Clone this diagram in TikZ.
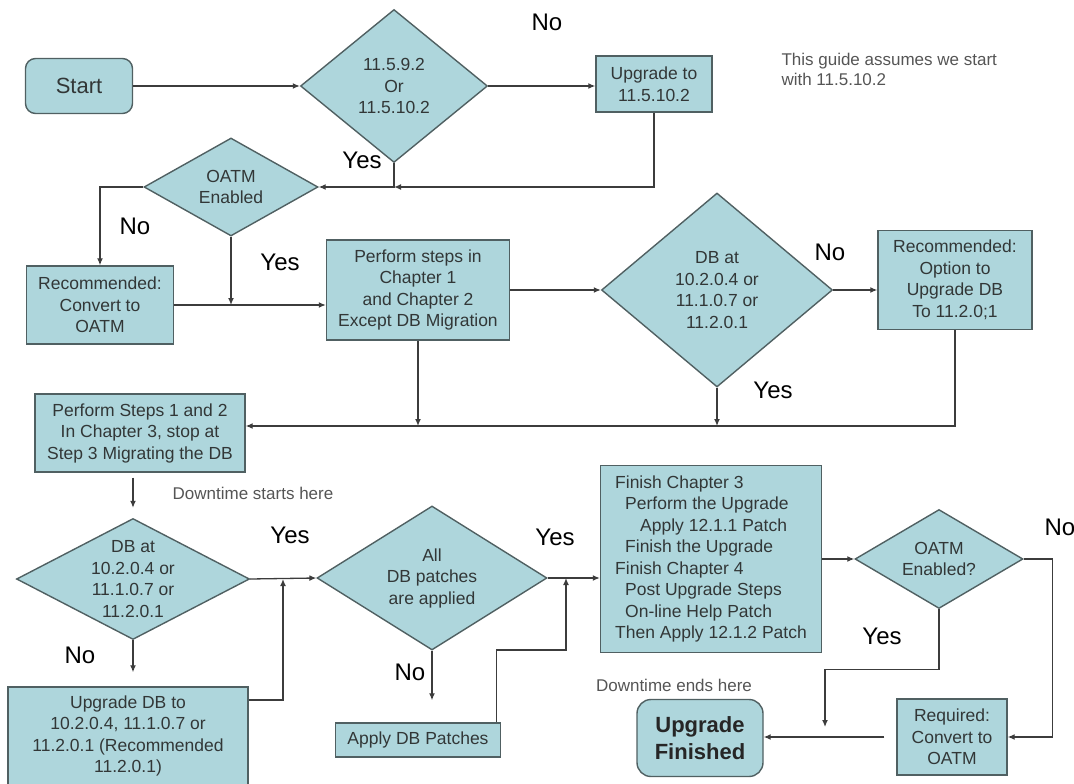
\documentclass[tikz,border=0pt]{standalone}
\usepackage{fontspec}
\setmainfont{Liberation Sans}
\usetikzlibrary{shapes.geometric,arrows.meta}
\definecolor{boxfill}{RGB}{174,214,220}
\definecolor{boxline}{RGB}{80,96,98}
\definecolor{boxtext}{RGB}{50,55,55}
\definecolor{linkline}{RGB}{60,60,60}
\definecolor{notetext}{RGB}{85,85,85}

\begin{document}
\begin{tikzpicture}[x=1pt, y=-1pt,
	box/.style={rectangle, draw=boxline, fill=boxfill, line width=1.4pt, align=center, text=boxtext, font=\fontsize{17.5}{21.5}\selectfont, inner sep=2pt},
	rbox/.style={box, rounded corners=10pt},
	dia/.style={diamond, draw=boxline, fill=boxfill, line width=1.4pt, inner sep=0pt},
	dtxt/.style={align=center, text=boxtext, font=\fontsize{17.5}{21.5}\selectfont},
	yn/.style={font=\fontsize{24}{28}\selectfont},
	note/.style={text=notetext, font=\fontsize{17}{20}\selectfont, align=left},
	link/.style={draw=linkline, line width=1.3pt, ->, >={Latex[length=7pt,width=6pt]}}]
		\useasboundingbox (0,0) rectangle (1074,784);

		% top row
		\node[rbox, minimum width=107pt, minimum height=55pt, font=\fontsize{22}{26}\selectfont] (start) at (79,86) {Start};
		\node[dia, minimum width=187pt, minimum height=153pt, label={[dtxt]center:{11.5.9.2\\Or\\11.5.10.2}}] (q1) at (394,86) {};
		\node[box, minimum width=116pt, minimum height=56pt] (up1) at (654,84) {Upgrade to\\11.5.10.2};
		\node[note, anchor=north west] (guide) at (778,50) {This guide assumes we start\\with 11.5.10.2};

		\node[dia, minimum width=174pt, minimum height=98pt, label={[dtxt]center:{OATM\\Enabled}}] (oatm1) at (231,187) {};
		\node[box, minimum width=147pt, minimum height=78pt] (conv1) at (100,305) {Recommended:\\Convert to\\OATM};
		\node[box, minimum width=183pt, minimum height=100pt] (ch12) at (418,290) {Perform steps in\\Chapter 1\\and Chapter 2\\Except DB Migration};
		\node[dia, minimum width=231pt, minimum height=194pt, label={[dtxt]center:{DB at\\10.2.0.4 or\\11.1.0.7 or\\11.2.0.1}}] (q2) at (717,290) {};
		\node[box, minimum width=154pt, minimum height=99pt] (opt) at (955,280) {Recommended:\\Option to\\Upgrade DB\\To 11.2.0;1};

		% downtime part
		\node[box, minimum width=210pt, minimum height=78pt] (ch3) at (140,433) {Perform Steps 1 and 2\\In Chapter 3, stop at\\Step 3 Migrating the DB};
		\node[note] (dstart) at (253,493) {Downtime starts here};
		\node[dia, minimum width=233pt, minimum height=121pt, label={[dtxt]center:{DB at\\10.2.0.4 or\\11.1.0.7 or\\11.2.0.1}}] (q3) at (133,579) {};
		\node[box, minimum width=240pt, minimum height=98pt] (updb) at (128,736) {Upgrade DB to\\10.2.0.4, 11.1.0.7 or\\11.2.0.1 (Recommended\\11.2.0.1)};
		\node[dia, minimum width=230pt, minimum height=144pt, label={[dtxt]center:{All\\DB patches\\are applied}}] (q4) at (432,578) {};
		\node[box, minimum width=165pt, minimum height=34pt] (apply) at (418,740) {Apply DB Patches};
		\node[box, minimum width=221pt, minimum height=187pt, align=left] (fin) at (711,559) {Finish Chapter 3\\\hspace*{10pt}Perform the Upgrade\\\hspace*{25pt}Apply 12.1.1 Patch\\\hspace*{10pt}Finish the Upgrade\\Finish Chapter 4\\\hspace*{10pt}Post Upgrade Steps\\\hspace*{10pt}On-line Help Patch\\Then Apply 12.1.2 Patch};
		\node[dia, minimum width=168pt, minimum height=99pt, label={[dtxt]center:{OATM\\Enabled?}}] (q5) at (939,559) {};
		\node[box, minimum width=110pt, minimum height=76pt] (req) at (952,737) {Required:\\Convert to\\OATM};
		\node[rbox, rounded corners=14pt, minimum width=126pt, minimum height=77pt, text=black!85, font=\bfseries\fontsize{22}{27}\selectfont] (done) at (700,738) {Upgrade\\Finished};
		\node[note] (dend) at (674,685) {Downtime ends here};

		% Yes / No
		\node[yn] (no1) at (547,22) {No};
		\node[yn] (yes1) at (362,160) {Yes};
		\node[yn] (no2) at (135,226) {No};
		\node[yn] (yes2) at (280,262) {Yes};
		\node[yn] (no3) at (830,252) {No};
		\node[yn] (yes3) at (773,390) {Yes};
		\node[yn] (yes4) at (290,535) {Yes};
		\node[yn] (no4) at (80,655) {No};
		\node[yn] (no5) at (410,672) {No};
		\node[yn] (yes5) at (555,537) {Yes};
		\node[yn] (no6) at (1060,527) {No};
		\node[yn] (yes6) at (882,636) {Yes};

		% joins
		\coordinate (j1) at (q1.south |- oatm1.east);
		\coordinate (j2) at (oatm1.south |- conv1.east);
		\coordinate (j3) at (717,426);
		\coordinate (j4) at (283,579);
		\coordinate (j5) at (566,578);
		\coordinate (j7) at (825,727);

		\draw[link] (start.east) -- (q1.west);
		\draw[link] (q1.east) -- (q1.east -| up1.west);
		\draw[link] (up1.south) |- (j1);
		\draw[link] (q1.south) |- (oatm1.east);
		\draw[link] (oatm1.west) -| (conv1.north);
		\draw[link] (oatm1.south) -- (j2);
		\draw[link] (conv1.east) -- (conv1.east -| ch12.west);
		\draw[link] (ch12.east) -- (q2.west);
		\draw[link] (q2.east) -- (q2.east -| opt.west);
		\draw[link] (q2.south) -- (j3);
		\draw[link] (ch12.south) -- (ch12.south |- j3);
		\draw[link] (opt.south) |- (ch3.east |- j3);

		\draw[link, shorten <=5pt, shorten >=10pt] (q3.north |- ch3.south) -- (q3.north);
		\draw[link, shorten >=14pt] (q3.south) -- (q3.south |- updb.north);
		\draw[link] (q3.east) -- (q4.west);
		\draw[link] ([yshift=36pt]updb.east) -| (j4);
		\draw[link, shorten >=22pt] (q4.south) -- (q4.south |- apply.north);
		\draw[link] ([xshift=-5pt]apply.north east) |- ([yshift=-72pt]j5) -- (j5);
		\draw[link] (q4.east) -- (q4.east -| fin.west);
		\draw[link] (fin.east) -- (q5.west);
		\draw[link] (q5.east) -- ++(29pt,0) |- (req.east);
		\draw[link] (q5.south) -- ++(0,-60pt) -| (j7);
		\draw[link, shorten <=12pt] (req.west) -- (req.west -| done.east);
	\end{tikzpicture}
\end{document}
